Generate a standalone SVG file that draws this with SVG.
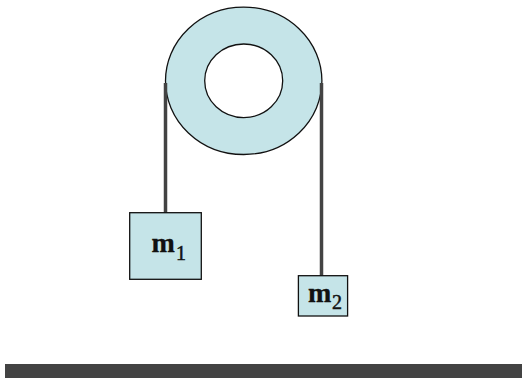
<svg xmlns="http://www.w3.org/2000/svg" width="522" height="378" viewBox="0 0 522 378">
<style>
.s{fill:#c5e4e8;stroke:#111;stroke-width:1.3}
.r{stroke:#434343;stroke-width:3.5;fill:none}
.m{font-family:"Liberation Serif",serif;font-weight:bold;font-size:28px;fill:#111;stroke:#111;stroke-width:.3}
.i{font-family:"Liberation Serif",serif;font-size:20px;fill:#111;stroke:#111;stroke-width:.5}
</style>
<rect width="522" height="378" fill="#fff"/>
<g id="pulley">
<path fill-rule="evenodd" class="s" d="M165.5 80.8a78.2 73.7 0 1 0 156.4 0a78.2 73.7 0 1 0 -156.4 0ZM204.7 80.8a39 36.8 0 1 0 78 0a39 36.8 0 1 0 -78 0Z"/>
</g>
<g id="connectors">
<line class="r" x1="165.5" y1="83" x2="165.5" y2="213"/>
<line class="r" x1="321.5" y1="83" x2="321.5" y2="276"/>
</g>
<g id="m1">
<rect class="s" x="129.7" y="212.7" width="71.6" height="66.6"/>
<text class="m" x="151.5" y="251.7">m</text><text class="i" x="176" y="260">1</text>
</g>
<g id="m2">
<rect class="s" x="298.4" y="275.7" width="49.2" height="40.3"/>
<text class="m" x="308" y="301.7">m</text><text class="i" x="332" y="309">2</text>
</g>
<rect id="ground" x="5" y="364" width="517" height="14" fill="#434343"/>
</svg>
